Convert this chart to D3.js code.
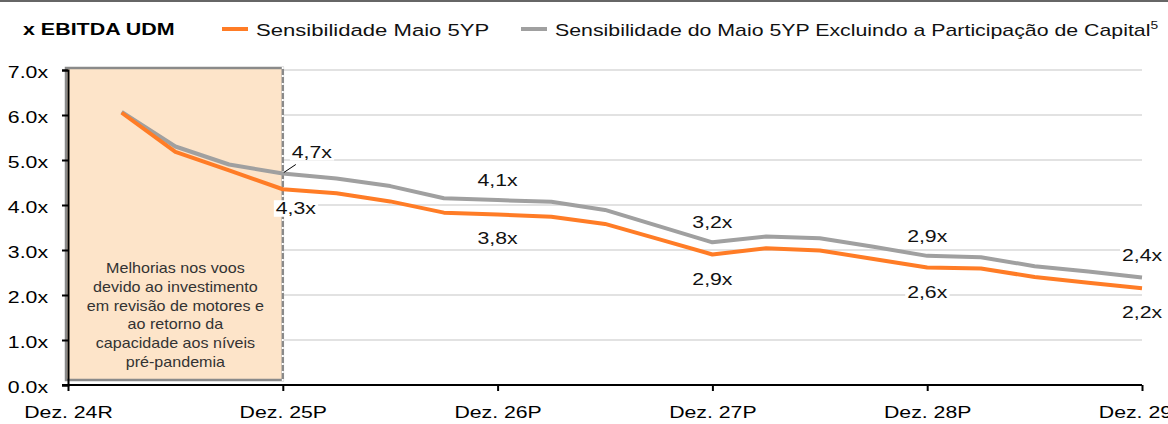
<!DOCTYPE html>
<html>
<head>
<meta charset="utf-8">
<script src="https://cdn.jsdelivr.net/npm/d3@7"></script>
<style>
  body { margin: 0; background: #fff; }
  svg { font-family: "Liberation Sans", Arial, sans-serif; display: block; }
</style>
</head>
<body>
<div id="chart"></div>
<script>
// quarterly points, Dez. 24R .. Dez. 29P
var yearTicks = ["Dez. 24R", "Dez. 25P", "Dez. 26P", "Dez. 27P", "Dez. 28P", "Dez. 29P"];
var sensMaio = [null, 6.05, 5.18, 4.77, 4.35, 4.26, 4.08, 3.83, 3.79, 3.74, 3.58, 3.24, 2.90, 3.04, 2.99, 2.80, 2.61, 2.59, 2.40, 2.27, 2.15];
var sensExcl = [null, 6.07, 5.30, 4.90, 4.70, 4.59, 4.42, 4.15, 4.11, 4.07, 3.89, 3.53, 3.17, 3.30, 3.26, 3.07, 2.87, 2.84, 2.64, 2.52, 2.39];
var labelIdx = [4, 8, 12, 16, 20];
var labelsExcl = ["4,7x", "4,1x", "3,2x", "2,9x", "2,4x"];
var labelsMaio = ["4,3x", "3,8x", "2,9x", "2,6x", "2,2x"];
var yTicks = [0, 1, 2, 3, 4, 5, 6, 7];
var noteLines = ["Melhorias nos voos", "devido ao investimento", "em revisão de motores e", "ao retorno da", "capacidade aos níveis", "pré-pandemia"];

var W = 1168, H = 424;
var mLeft = 68, mRight = 1142, mTop = 70, mBottom = 385;
var orange = "#ff7c26", grey = "#a0a0a0";
var SX = 1.25; // reference text is horizontally stretched

var svg = d3.select("#chart").append("svg").attr("width", W).attr("height", H);

var x = d3.scaleLinear().domain([0, 20]).range([mLeft, mRight]);
var y = d3.scaleLinear().domain([0, 7]).range([mBottom, mTop]);

// stretched text helper
function stext(parent, px, py, txt, size, sx) {
    return parent.append("text")
        .attr("transform", "translate(" + px + "," + py + ") scale(" + (sx || SX) + ",1)")
        .attr("font-size", size).attr("fill", "#111")
        .text(txt);
}

// top rule
svg.append("line").attr("x1", 0).attr("x2", W).attr("y1", 1).attr("y2", 1)
    .attr("stroke", "#333").attr("stroke-width", 1.5);

// gridlines
svg.append("g").selectAll("line")
    .data(yTicks.slice(1))
    .enter().append("line")
    .attr("x1", mLeft).attr("x2", mRight)
    .attr("y1", function (d) { return y(d); })
    .attr("y2", function (d) { return y(d); })
    .attr("stroke", "#d9d9d9").attr("stroke-width", 1.5);

// shaded period box
svg.append("rect")
    .attr("x", x(0) - 2).attr("y", y(7) - 2)
    .attr("width", x(4) - x(0) + 2).attr("height", y(0) - y(7) - 3)
    .attr("fill", "#fde4c9").attr("stroke", "#8a8a8a").attr("stroke-width", 2.5);
svg.append("line")
    .attr("x1", x(4)).attr("x2", x(4)).attr("y1", y(7) - 3).attr("y2", y(0) - 4)
    .attr("stroke", "#ffffff").attr("stroke-width", 2).attr("stroke-dasharray", "2,6");

noteLines.forEach(function (d, i) {
    stext(svg, (x(0) + x(4)) / 2, 273 + i * 18.8, d, 14, 1.15)
        .attr("text-anchor", "middle").attr("fill", "#333");
});

// lines
var line = d3.line()
    .defined(function (d) { return d != null; })
    .x(function (d, i) { return x(i); })
    .y(function (d) { return y(d); });

svg.append("path").datum(sensExcl)
    .attr("d", line).attr("fill", "none")
    .attr("stroke", grey).attr("stroke-width", 4).attr("stroke-linejoin", "round");
svg.append("path").datum(sensMaio)
    .attr("d", line).attr("fill", "none")
    .attr("stroke", orange).attr("stroke-width", 4).attr("stroke-linejoin", "round");

// y axis
var yAxis = svg.append("g")
    .attr("transform", "translate(" + mLeft + ",0)")
    .call(d3.axisLeft(y).tickValues(yTicks).tickSize(6)
        .tickFormat(function (d) { return d3.format(".1f")(d) + "x"; }));
yAxis.select(".domain").attr("stroke", "#000").attr("stroke-width", 2);
yAxis.selectAll(".tick line").attr("stroke", "#000").attr("stroke-width", 2);
yAxis.selectAll("text").attr("font-size", 17).attr("fill", "#000")
    .attr("font-family", "Liberation Sans, Arial, sans-serif")
    .attr("x", -20 / SX).attr("y", 2)
    .attr("transform", "scale(" + SX + ",1)");

// x axis
var xAxis = svg.append("g")
    .attr("transform", "translate(0," + mBottom + ")")
    .call(d3.axisBottom(x).tickValues([0, 4, 8, 12, 16, 20]).tickSize(6).tickPadding(15)
        .tickFormat(function (d) { return yearTicks[d / 4]; }));
xAxis.select(".domain").attr("stroke", "#000").attr("stroke-width", 2)
    .attr("d", "M" + (mLeft - 6) + ",0H" + mRight);
xAxis.selectAll(".tick line").attr("stroke", "#000").attr("stroke-width", 2);
xAxis.selectAll("text").attr("font-size", 17).attr("fill", "#000")
    .attr("font-family", "Liberation Sans, Arial, sans-serif")
    .attr("transform", "scale(" + SX + ",1)");

// data labels
function addLabel(px, py, txt) {
    var g = svg.append("g")
        .attr("transform", "translate(" + px + "," + py + ") scale(" + SX + ",1)");
    var t = g.append("text")
        .attr("text-anchor", "middle")
        .attr("font-size", 17).attr("fill", "#111")
        .text(txt);
    var bb = t.node().getBBox();
    g.insert("rect", "text")
        .attr("x", bb.x - 1.5).attr("y", bb.y + 1)
        .attr("width", bb.width + 3).attr("height", bb.height - 2)
        .attr("fill", "#fff");
}

labelIdx.forEach(function (k, i) {
    var gx = x(k), gy = y(sensExcl[k]);
    var ox = x(k), oy = y(sensMaio[k]);
    if (i === 0) {
        svg.append("line")
            .attr("x1", gx + 1).attr("y1", gy - 1)
            .attr("x2", gx + 13).attr("y2", gy - 9)
            .attr("stroke", "#000").attr("stroke-width", 1);
        addLabel(gx + 29, gy - 15.5, labelsExcl[i]);
        addLabel(ox + 13, oy + 25, labelsMaio[i]);
    } else {
        addLabel(gx, gy - (i === 4 ? 16 : 14), labelsExcl[i]);
        addLabel(ox, oy + 30, labelsMaio[i]);
    }
});

// title + legend
stext(svg, 23, 35, "x EBITDA UDM", 16, 1.34)
    .attr("font-weight", "bold").attr("fill", "#000");

var legend = [
    { name: "Sensibilidade Maio 5YP", color: orange, x: 222, sx: 1.3 },
    { name: "Sensibilidade do Maio 5YP Excluindo a Participação de Capital", color: grey, x: 521, sx: 1.255 }
];
legend.forEach(function (d, i) {
    svg.append("line")
        .attr("x1", d.x).attr("x2", d.x + 26).attr("y1", 29).attr("y2", 29)
        .attr("stroke", d.color).attr("stroke-width", 4);
    var t = stext(svg, d.x + 34, 36, d.name, 17, d.sx);
    if (i === 1) {
        t.append("tspan").attr("font-size", 11).attr("dy", -7).text("5");
    }
});
</script>
</body>
</html>
